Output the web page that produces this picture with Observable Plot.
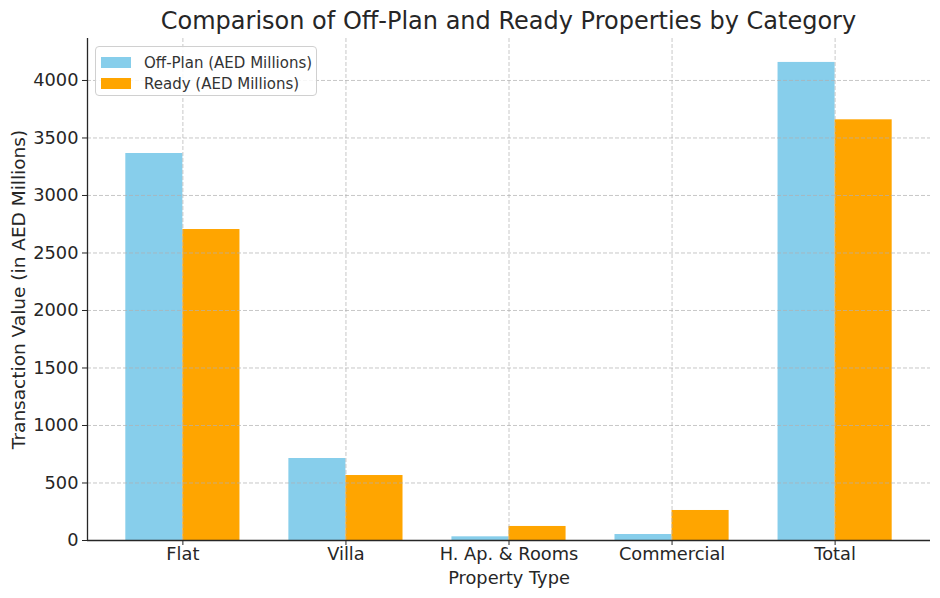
<!DOCTYPE html>
<html>
<head>
<meta charset="utf-8">
<script src="https://cdn.jsdelivr.net/npm/d3@7"></script>
<script src="https://cdn.jsdelivr.net/npm/@observablehq/plot@0.6"></script>
<style>
  html, body { margin: 0; padding: 0; background: #fff; }
  body { font-family: "DejaVu Sans", sans-serif; color: #262626; width: 940px; height: 598px; overflow: hidden; position: relative; }
  #title { height: 38px; box-sizing: border-box; padding: 6px 10px 0 87px; text-align: center; font-size: 24px; line-height: 31px; color: #262626; white-space: nowrap; }
  #legend { position: absolute; left: 95px; top: 46px; width: 222px; height: 50px; box-sizing: border-box; border: 1px solid #d0d0d0; border-radius: 4px; background: rgba(255,255,255,0.85); padding: 5px 0 0 5px; font-size: 15px; color: #333; }
  .item { display: flex; align-items: center; height: 21px; }
  .sw { width: 30px; height: 11px; margin-right: 13px; }
</style>
</head>
<body>
<div id="title">Comparison of Off-Plan and Ready Properties by Category</div>
<div id="chart"></div>
<div id="legend"></div>
<script>
const categories = ["Flat", "Villa", "H. Ap. & Rooms", "Commercial", "Total"];
const seriesNames = ["Off-Plan (AED Millions)", "Ready (AED Millions)"];
const offPlan = [3365, 713, 32, 52, 4157];
const ready = [2704, 565, 122, 261, 3658];
const yTicks = [0, 500, 1000, 1500, 2000, 2500, 3000, 3500, 4000];
const colors = ["#87CEEB", "#FFA500"];

const barWidth = 0.35;
const xDomain = [-0.585, categories.length - 1 + 0.585];
const yDomain = [0, 4365];

const data = [];
categories.forEach((c, i) => {
  data.push({i, category: c, s: 0, series: seriesNames[0], value: offPlan[i]});
  data.push({i, category: c, s: 1, series: seriesNames[1], value: ready[i]});
});

const gridStyle = {stroke: "#b0b0b0", strokeOpacity: 0.7, strokeDasharray: "4,2", strokeWidth: 1};

const plot = Plot.plot({
  width: 940,
  height: 560,
  marginTop: 0,
  marginLeft: 87,
  marginRight: 10,
  marginBottom: 58,
  style: {fontFamily: "DejaVu Sans, sans-serif", fontSize: "17.8px", color: "#262626", background: "#fff"},
  x: {type: "linear", domain: xDomain},
  y: {domain: yDomain},
  color: {domain: seriesNames, range: colors},
  marks: [
    Plot.rectY(data, {
      x1: d => d.i + (d.s - 1) * barWidth,
      x2: d => d.i + d.s * barWidth,
      y1: 0,
      y2: "value",
      fill: "series",
      inset: 0
    }),
    Plot.ruleY(yTicks.slice(1), gridStyle),
    Plot.ruleX(d3.range(categories.length), gridStyle),
    Plot.ruleY([yDomain[0]], {stroke: "#262626", strokeWidth: 1.3}),
    Plot.ruleX([xDomain[0]], {stroke: "#262626", strokeWidth: 1.3}),
    Plot.axisY({
      ticks: yTicks,
      tickSize: 5,
      tickPadding: 4,
      tickFormat: d => String(d),
      label: null,
      fontSize: "17.8px"
    }),
    Plot.axisY({
      ticks: [],
      label: "Transaction Value (in AED Millions)",
      labelAnchor: "center",
      labelArrow: "none",
      labelOffset: 76,
      fontSize: "18.5px"
    }),
    Plot.axisX({
      ticks: d3.range(categories.length),
      tickFormat: i => categories[i],
      tickSize: 5,
      tickPadding: 2,
      label: "Property Type",
      labelAnchor: "center",
      labelArrow: "none",
      labelOffset: 43,
      fontSize: "17.8px"
    })
  ]
});
document.getElementById("chart").appendChild(plot);

const color = plot.scale("color");
const legend = document.getElementById("legend");
seriesNames.forEach((name, k) => {
  const item = document.createElement("div");
  item.className = "item";
  const sw = document.createElement("span");
  sw.className = "sw";
  sw.style.background = color.range[k];
  const t = document.createElement("span");
  t.textContent = name;
  item.appendChild(sw);
  item.appendChild(t);
  legend.appendChild(item);
});
</script>
</body>
</html>
